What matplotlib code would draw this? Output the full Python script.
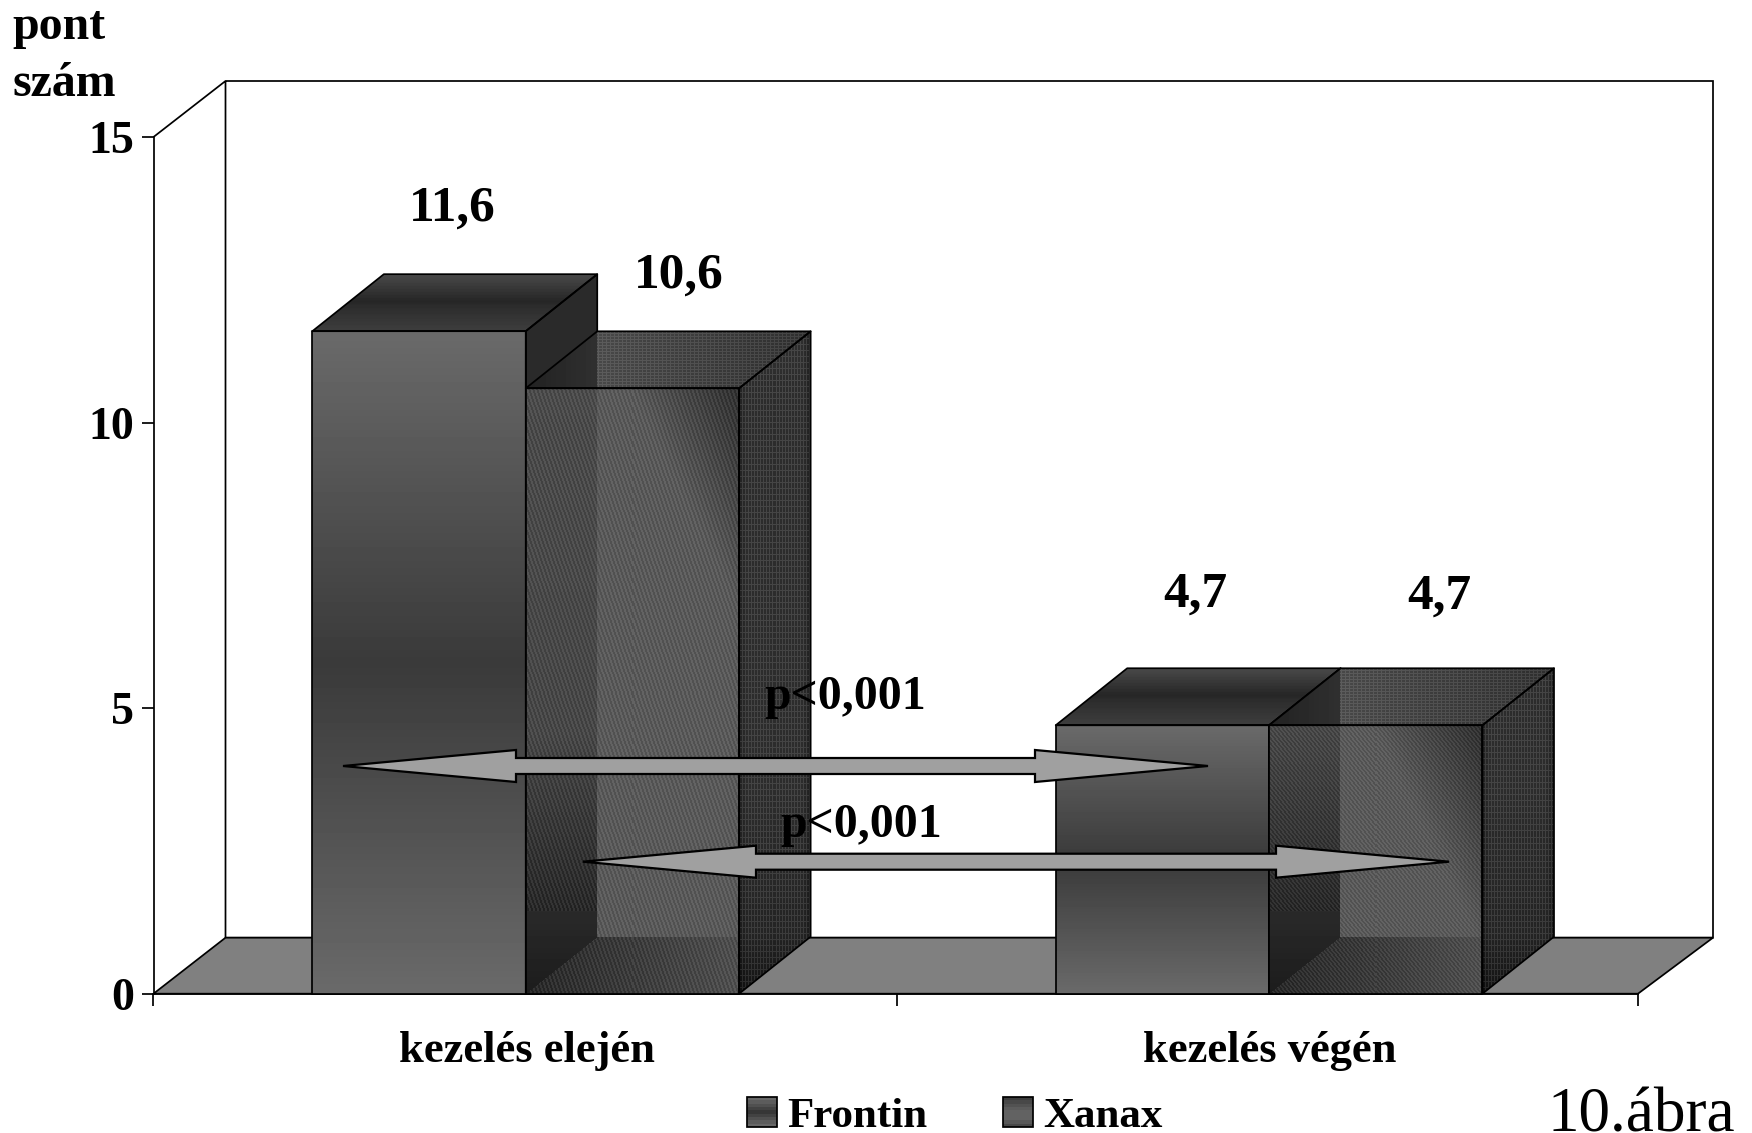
import numpy as np
import matplotlib
matplotlib.use("Agg")
import matplotlib.pyplot as plt
from matplotlib.patches import Polygon, Rectangle
from matplotlib.transforms import Affine2D
from matplotlib.legend_handler import HandlerBase

# ---- data -------------------------------------------------------------
categories = ["kezelés elején", "kezelés végén"]
series_names = ["Frontin", "Xanax"]
frontin = [11.6, 4.7]
xanax = [10.6, 4.7]
y_ticks = [0, 5, 10, 15]
p_labels = ["p<0,001", "p<0,001"]

# ---- layout (reference pixels) ----------------------------------------
W, H = 1752, 1133
AX_L, AX_R, AX_T, AX_B = 153.5, 1638.0, 137.0, 993.7
WALL_DX_L, WALL_DX_R, WALL_DY = 72.0, 75.0, 56.0
BAR_DX, BAR_DY = 71.5, 57.0
BAR_W_DATA = 0.2875
BAR_SHIFTS = [0.0015, 0.003]

plt.rcParams["font.family"] = ["Liberation Serif", "DejaVu Serif"]
fig = plt.figure(figsize=(W / 100, H / 100), dpi=100, facecolor="white")
ax = fig.add_axes([AX_L / W, 1 - AX_B / H, (AX_R - AX_L) / W, (AX_B - AX_T) / H])
ax.set_facecolor("none")
XMIN, XMAX, YMIN, YMAX = -0.5, 1.5, 0, 15
ax.set_xlim(XMIN, XMAX)
ax.set_ylim(YMIN, YMAX)
sx = (AX_R - AX_L) / (XMAX - XMIN)
sy = (AX_B - AX_T) / (YMAX - YMIN)
PX = Affine2D().scale(1, -1).translate(0, H)   # reference pixels -> display
LW = 1.25

for s in ("top", "right"):
    ax.spines[s].set_visible(False)
for s in ("left", "bottom"):
    ax.spines[s].set_linewidth(LW)
    ax.spines[s].set_zorder(2)

ax.set_yticks(y_ticks)
ax.set_yticklabels([str(t) for t in y_ticks], fontsize=33, fontweight="bold")
ax.tick_params(axis="y", length=8.6, width=LW, pad=5.5)
ax.set_xticks([XMIN, 0.502, XMAX])
ax.set_xticklabels(["", "", ""])
ax.tick_params(axis="x", which="major", length=8.6, width=LW)
ax.set_xticks([0.003, 1.004], minor=True)
ax.set_xticklabels(categories, minor=True, fontsize=32, fontweight="bold")
ax.tick_params(axis="x", which="minor", length=0, pad=27)

# ---- walls and floor --------------------------------------------------
wl, wr, wdy = WALL_DX_L / sx, WALL_DX_R / sx, WALL_DY / sy
ax.add_patch(Polygon([(XMIN, YMAX), (XMIN + wl, YMAX + wdy), (XMAX + wr, YMAX + wdy),
                      (XMAX + wr, wdy), (XMIN + wl, wdy), (XMIN + wl, YMAX + wdy)],
                     closed=False, fill=False, ec="black", lw=LW, clip_on=False, zorder=1))
ax.add_patch(Polygon([(XMIN, 0), (XMIN + wl, wdy), (XMAX + wr, wdy), (XMAX, 0)],
                     closed=True, fc="#808080", ec="black", lw=LW, clip_on=False, zorder=1))


# ---- shaded faces -----------------------------------------------------
def shade(verts, func, z):
    """Fill a polygon (data coordinates) with a per-pixel grey image."""
    verts = np.asarray(verts, float)
    x0, x1 = verts[:, 0].min(), verts[:, 0].max()
    y0, y1 = verts[:, 1].min(), verts[:, 1].max()
    nx = max(int(round((x1 - x0) * sx)), 2)
    ny = max(int(round((y1 - y0) * sy)), 2)
    px, py = np.meshgrid(np.arange(nx) + 0.5, (np.arange(ny) + 0.5)[::-1])
    g = func(px, py, nx, ny)
    im = ax.imshow(g, extent=(x0, x1, y0, y1), aspect="auto", cmap="gray", vmin=0, vmax=255,
                   interpolation="nearest", origin="upper", zorder=z)
    im.set_clip_path(Polygon(verts, closed=True, transform=ax.transData))
    ax.add_patch(Polygon(verts, closed=True, fill=False, ec="black", lw=LW,
                         joinstyle="round", clip_on=False, zorder=z + 0.01))


def frontin_bar(center, value, z):
    left, right = center - BAR_W_DATA, center
    ddx, ddy = BAR_DX / sx, BAR_DY / sy

    def front(px, py, nx, ny):
        return np.interp(py / ny, [0, 0.5, 1], [0x6a, 0x3a, 0x6a])

    def top(px, py, nx, ny):
        return np.interp(py / ny, [0, 0.45, 0.52, 1], [0x3e, 0x2c, 0x26, 0x4a])

    def side(px, py, nx, ny):
        return np.full(px.shape, 0x2a)

    shade([(left, 0), (right, 0), (right, value), (left, value)], front, z)
    shade([(left, value), (right, value), (right + ddx, value + ddy), (left + ddx, value + ddy)], top, z)
    shade([(right, 0), (right + ddx, ddy), (right + ddx, value + ddy), (right, value)], side, z)


def xanax_bar(center, value, z):
    left, right = center, center + BAR_W_DATA
    ddx, ddy = BAR_DX / sx, BAR_DY / sy

    def front(px, py, nx, ny):
        base = np.full(px.shape, 0x5a, float)
        s = np.clip(1 - ((nx - px) + 0.5 * (ny - py)) / 110, 0, 1)
        base = base * (1 - 0.45 * s)
        wall = (px < BAR_DX) & (py > px * BAR_DY / BAR_DX)
        base[wall] = np.interp(py[wall], [0, 260, 600], [0x1c, 0x48, 0x4c])
        floor = (py < BAR_DY) & (py <= px * BAR_DY / BAR_DX)
        base[floor] = np.interp(px[floor], [0, nx], [0x2a, 0x50])
        k = nx / ny
        stripes = ((np.floor(px) + np.floor(py) * k) % 4 < 2) * 2 - 1
        return base + 9 * stripes * (base > 0x2a)

    def top(px, py, nx, ny):
        base = np.where(px < BAR_DX, np.interp(px, [0, BAR_DX], [0x22, 0x30]),
                        np.interp(px, [BAR_DX, nx], [0x52, 0x38]))
        dots = ((np.floor(py) % 3 < 1) | (np.floor(px) % 4 < 1)) * 2 - 1
        return base + dots * 10 * (px >= BAR_DX)

    def side(px, py, nx, ny):
        base = np.interp(py, [0, 60, 200, ny], [0x1e, 0x30, 0x38, 0x3a])
        base = base * np.interp(px, [0, 8, nx - 8, nx], [0.8, 1, 1, 0.75])
        dots = ((np.floor(px) % 3 < 1) | (np.floor(py) % 6 < 1)) * 2 - 1
        return base + 12 * dots

    shade([(left, 0), (right, 0), (right, value), (left, value)], front, z)
    shade([(left, value), (right, value), (right + ddx, value + ddy), (left + ddx, value + ddy)], top, z)
    shade([(right, 0), (right + ddx, ddy), (right + ddx, value + ddy), (right, value)], side, z)


for i, (f, x) in enumerate(zip(frontin, xanax)):
    frontin_bar(i + BAR_SHIFTS[i], f, 3 + i)
    xanax_bar(i + BAR_SHIFTS[i], x, 3.5 + i)
ax.set_xlim(XMIN, XMAX)
ax.set_ylim(YMIN, YMAX)


# ---- value labels -----------------------------------------------------
def comma(v):
    return f"{v:.1f}".replace(".", ",")


label_pos = [((452.5, 221), (679, 288)), ((1195.5, 607), (1439, 609))]
for (f, x), (pf, px_) in zip(zip(frontin, xanax), label_pos):
    for v, (lx, ly) in ((f, pf), (x, px_)):
        fig.text(lx, ly, comma(v), transform=PX, ha="center", va="baseline",
                 fontsize=37, fontweight="bold", zorder=20)


# ---- annotation arrows ------------------------------------------------
def arrow(x0, x1, y, head=173, hh=16, sh=8):
    pts = [(x0, y), (x0 + head, y - hh), (x0 + head, y - sh), (x1 - head, y - sh), (x1 - head, y - hh),
           (x1, y), (x1 - head, y + hh), (x1 - head, y + sh), (x0 + head, y + sh), (x0 + head, y + hh)]
    fig.add_artist(Polygon(pts, closed=True, transform=PX, fc="#a0a0a0", ec="black", lw=1.6, zorder=10))


arrow(343, 1208, 766)
arrow(583, 1449, 861.7)
for s, (lx, ly) in zip(p_labels, [(764, 709), (780, 837)]):
    fig.text(lx, ly, s, transform=PX, ha="left", va="baseline", fontsize=34.4, fontweight="bold", zorder=20)

# ---- header and corner texts ------------------------------------------
fig.text(12, 39, "pont", transform=PX, fontsize=34.5, fontweight="bold", va="baseline")
fig.text(12, 96, "szám", transform=PX, fontsize=34.5, fontweight="bold", va="baseline")
fig.text(1735, 1132, "10.ábra", transform=PX, fontsize=45.5, ha="right", va="baseline")


# ---- legend -----------------------------------------------------------
class BandHandler(HandlerBase):
    def __init__(self, greys, **kw):
        super().__init__(**kw)
        self.greys = greys

    def create_artists(self, legend, orig, xd, yd, width, height, fontsize, trans):
        arts = []
        n = len(self.greys)
        for i, g in enumerate(self.greys):
            c = "#%02x%02x%02x" % (g, g, g)
            arts.append(Rectangle((-xd, -yd + height * i / n), width, height / n + 0.3,
                                  fc=c, ec="none", transform=trans))
        arts.append(Rectangle((-xd, -yd), width, height, fill=False, ec="black", lw=LW, transform=trans))
        return arts


h1 = Rectangle((0, 0), 1, 1, label=series_names[0])
h2 = Rectangle((0, 0), 1, 1, label=series_names[1])
leg = ax.legend(handles=[h1, h2], ncol=2, frameon=False, prop={"size": 31, "weight": "bold"},
                handler_map={
                    h1: BandHandler([0x68, 0x5c, 0x50, 0x42, 0x36, 0x42, 0x50, 0x5c, 0x68]),
                    h2: BandHandler([0x48, 0x58, 0x62, 0x62, 0x62, 0x5c, 0x52, 0x48, 0x3c])},
                handlelength=0.69, handleheight=0.69, handletextpad=0.24, columnspacing=1.76,
                borderpad=0, borderaxespad=0, loc="lower left",
                bbox_to_anchor=(747, 1133 - 1136), bbox_transform=Affine2D())
leg.set_zorder(20)

fig.savefig("out.png", dpi=100)
